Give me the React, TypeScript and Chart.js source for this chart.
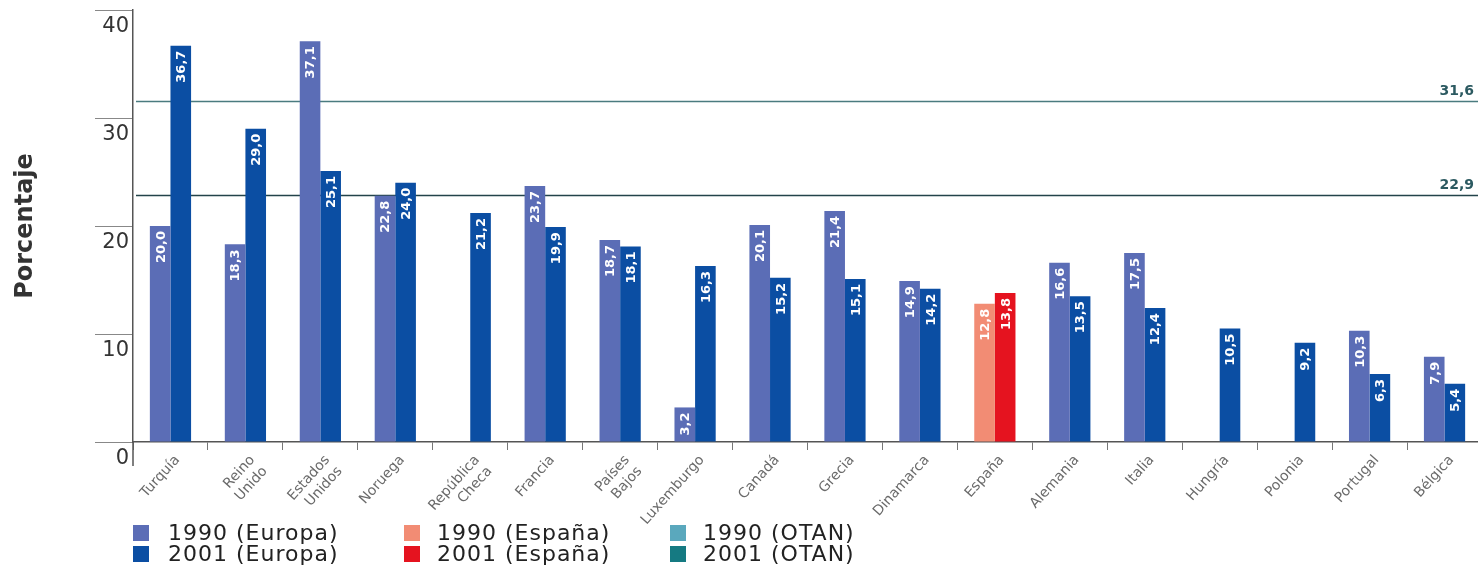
import React, { useEffect, useRef } from "react";
import { Chart, registerables } from "chart.js";

Chart.register(...registerables);

// ---- data ----
const categories: (string | string[])[] = [
  "Turquía",
  ["Reino", "Unido"],
  ["Estados", "Unidos"],
  "Noruega",
  ["República", "Checa"],
  "Francia",
  ["Países", "Bajos"],
  "Luxemburgo",
  "Canadá",
  "Grecia",
  "Dinamarca",
  "España",
  "Alemania",
  "Italia",
  "Hungría",
  "Polonia",
  "Portugal",
  "Bélgica",
];
const values1990: (number | null)[] = [
  20.0, 18.3, 37.1, 22.8, null, 23.7, 18.7, 3.2, 20.1, 21.4, 14.9, 12.8, 16.6, 17.5, null, null, 10.3, 7.9,
];
const values2001: (number | null)[] = [
  36.7, 29.0, 25.1, 24.0, 21.2, 19.9, 18.1, 16.3, 15.2, 15.1, 14.2, 13.8, 13.5, 12.4, 10.5, 9.2, 6.3, 5.4,
];
const otanValues = [31.6, 22.9];
const yTickValues = [0, 10, 20, 30, 40];
const highlightCategory = "España";
const legendLabels = [
  "1990 (Europa)",
  "2001 (Europa)",
  "1990 (España)",
  "2001 (España)",
  "1990 (OTAN)",
  "2001 (OTAN)",
];

// ---- styles ----
const C_1990 = "#5b6db6";
const C_2001 = "#0b4ea3";
const C_ES_1990 = "#f28c74";
const C_ES_2001 = "#e5131f";
const C_OTAN_1990 = "#5aa8bd";
const C_OTAN_2001 = "#157a82";
const legendColors = [C_1990, C_2001, C_ES_1990, C_ES_2001, C_OTAN_1990, C_OTAN_2001];
const legendSquareX = [133, 404, 670];
const legendTextX = [168, 437, 703];
const legendRowY = [525, 546];

const fmt = (v: number) => v.toFixed(1).replace(".", ",");

const isHighlight = (i: number) => categories[i] === highlightCategory;

const customPlugin = {
  id: "customDraw",
  beforeDatasetsDraw(chart: any) {
    const { ctx, chartArea, scales } = chart;
    const y = scales.y;
    const lineColors = ["#4a7b7f", "#23434a"];
    otanValues.forEach((v, i) => {
      const py = Math.round(y.getPixelForValue(v)) + 0.5;
      ctx.save();
      ctx.strokeStyle = lineColors[i];
      ctx.lineWidth = 1.5;
      ctx.beginPath();
      ctx.moveTo(chartArea.left + 3, py);
      ctx.lineTo(chart.width, py);
      ctx.stroke();
      ctx.restore();
    });
  },
  afterDatasetsDraw(chart: any) {
    const { ctx, chartArea, scales } = chart;
    const y = scales.y;
    // OTAN labels
    otanValues.forEach((v) => {
      const py = y.getPixelForValue(v);
      ctx.save();
      ctx.font = 'bold 14px "DejaVu Sans"';
      ctx.fillStyle = "#2c5a61";
      ctx.textAlign = "right";
      ctx.textBaseline = "bottom";
      ctx.fillText(fmt(v), 1474, py - 2);
      ctx.restore();
    });
    // bar value labels
    chart.data.datasets.forEach((ds: any, di: number) => {
      const meta = chart.getDatasetMeta(di);
      meta.data.forEach((el: any, i: number) => {
        const v = ds.data[i];
        if (v == null) return;
        ctx.save();
        ctx.translate(el.x, el.y + 5);
        ctx.rotate(-Math.PI / 2);
        ctx.font = 'bold 13px "DejaVu Sans"';
        ctx.fillStyle = "#ffffff";
        ctx.textAlign = "right";
        ctx.textBaseline = "middle";
        ctx.fillText(fmt(v), 0, 1);
        ctx.restore();
      });
    });
    // y axis extension below zero
    ctx.save();
    ctx.strokeStyle = "#555";
    ctx.lineWidth = 1.5;
    ctx.beginPath();
    ctx.moveTo(chartArea.left, chartArea.bottom);
    ctx.lineTo(chartArea.left, chartArea.bottom + 24);
    ctx.stroke();
    ctx.restore();
  },
};

export default function App() {
  const canvasRef = useRef<HTMLCanvasElement | null>(null);

  useEffect(() => {
    if (!canvasRef.current) return;
    const chart = new Chart(canvasRef.current, {
      type: "bar",
      data: {
        labels: categories,
        datasets: [
          {
            label: "1990",
            data: values1990,
            backgroundColor: categories.map((_, i) => (isHighlight(i) ? C_ES_1990 : C_1990)),
            barPercentage: 1,
            categoryPercentage: 0.55,
          },
          {
            label: "2001",
            data: values2001,
            backgroundColor: categories.map((_, i) => (isHighlight(i) ? C_ES_2001 : C_2001)),
            barPercentage: 1,
            categoryPercentage: 0.55,
          },
        ],
      },
      options: {
        responsive: false,
        animation: false,
        devicePixelRatio: 1,
        layout: { padding: { top: 10, right: 2, left: 0, bottom: 0 } },
        plugins: {
          legend: { display: false },
          tooltip: { enabled: false },
        },
        scales: {
          x: {
            offset: true,
            grid: {
              display: true,
              drawOnChartArea: false,
              drawTicks: true,
              tickLength: 8,
              color: "#777",
              offset: true,
            },
            border: { display: true, color: "#555", width: 1.5 },
            ticks: {
              autoSkip: false,
              minRotation: 48,
              maxRotation: 48,
              padding: 2,
              labelOffset: 7,
              color: "#6a6a6a",
              font: { family: "DejaVu Sans", size: 14 },
            },
            afterFit: (s: any) => {
              s.height = 132;
            },
          },
          y: {
            min: 0,
            max: 40,
            afterBuildTicks: (s: any) => {
              s.ticks = yTickValues.map((v) => ({ value: v }));
            },
            ticks: {
              padding: -34,
              labelOffset: 17,
              color: "#333",
              font: { family: "DejaVu Sans", size: 21 },
            },
            grid: {
              drawOnChartArea: false,
              drawTicks: true,
              tickLength: 38,
              color: "#888",
            },
            border: { display: true, color: "#555", width: 1.5 },
            title: {
              display: true,
              text: "Porcentaje",
              color: "#333",
              font: { family: "DejaVu Sans", size: 24, weight: "bold" },
              padding: { top: 11, bottom: 0 },
            },
            afterFit: (s: any) => {
              s.width = 133;
            },
          },
        },
      },
      plugins: [customPlugin],
    });
    return () => chart.destroy();
  }, []);

  return (
    <div
      style={{
        position: "absolute",
        left: 0,
        top: 0,
        width: 1478,
        height: 574,
        overflow: "hidden",
        background: "#fff",
      }}
    >
      <canvas ref={canvasRef} width={1484} height={574} style={{ display: "block" }} />
      {legendLabels.map((label, i) => {
        const col = Math.floor(i / 2);
        const row = i % 2;
        return (
          <React.Fragment key={label}>
            <div
              style={{
                position: "absolute",
                left: legendSquareX[col],
                top: legendRowY[row],
                width: 16,
                height: 16,
                background: legendColors[i],
              }}
            />
            <div
              style={{
                position: "absolute",
                left: legendTextX[col],
                top: legendRowY[row] - 5,
                fontFamily: '"DejaVu Sans"',
                fontSize: 22,
                letterSpacing: 1,
                lineHeight: "26px",
                color: "#222",
                whiteSpace: "nowrap",
              }}
            >
              {label}
            </div>
          </React.Fragment>
        );
      })}
    </div>
  );
}
